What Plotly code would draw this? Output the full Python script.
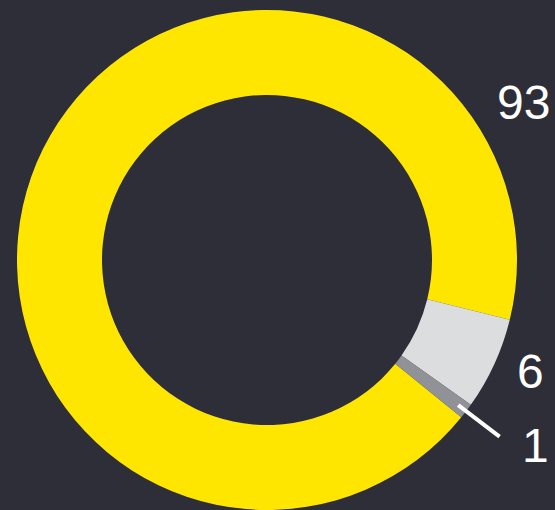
import math
import plotly.graph_objects as go

labels = ["A", "B", "C"]
values = [93, 6, 1]
colors = ["#FFE600", "#DCDDDF", "#919297"]
value_text = ["93", "6", "1"]

W, H = 555, 510
BG = "#2E2E38"
ROT = 129
# pie geometry in pixels (layout)
cx, cy, R = 267, 260, 250

fig = go.Figure(go.Pie(
    labels=labels, values=values, sort=False, direction="clockwise",
    rotation=ROT, hole=0.66, textinfo="none", hoverinfo="label+value",
    marker=dict(colors=colors, line=dict(width=0)),
    domain=dict(x=[(cx - R) / W, (cx + R) / W],
                y=[max(0, 1 - (cy + R) / H), 1 - (cy - R) / H]),
    showlegend=False,
))

# label positions (pixels)
label_pos = [(523, 103), (530, 371), (535, 445)]
for txt, (px, py) in zip(value_text, label_pos):
    fig.add_annotation(x=px / W, y=1 - py / H, xref="paper", yref="paper",
                       xanchor="center", yanchor="middle",
                       text=txt, showarrow=False,
                       font=dict(size=48, color="white", family="Liberation Sans, Arial"))

# leader line for smallest slice, computed from data
total = sum(values)
theta0 = 90 - ROT
cum = sum(values[:2])
mid = math.radians(theta0 - 360 * (cum + values[2] / 2) / total)
def pt(r):
    return ((cx + r * math.cos(mid)) / W, 1 - (cy - r * math.sin(mid)) / H)
x0, y0 = pt(240)
x1, y1 = pt(292)
fig.add_shape(type="line", xref="paper", yref="paper", x0=x0, y0=y0, x1=x1, y1=y1,
              line=dict(color="white", width=4))

fig.update_layout(width=W, height=H, margin=dict(l=0, r=0, t=0, b=0),
                  paper_bgcolor=BG, plot_bgcolor=BG)
fig.write_html("out.html", config={"displayModeBar": False},
               post_script="document.body.style.margin='0';document.body.style.background='%s';" % BG)
